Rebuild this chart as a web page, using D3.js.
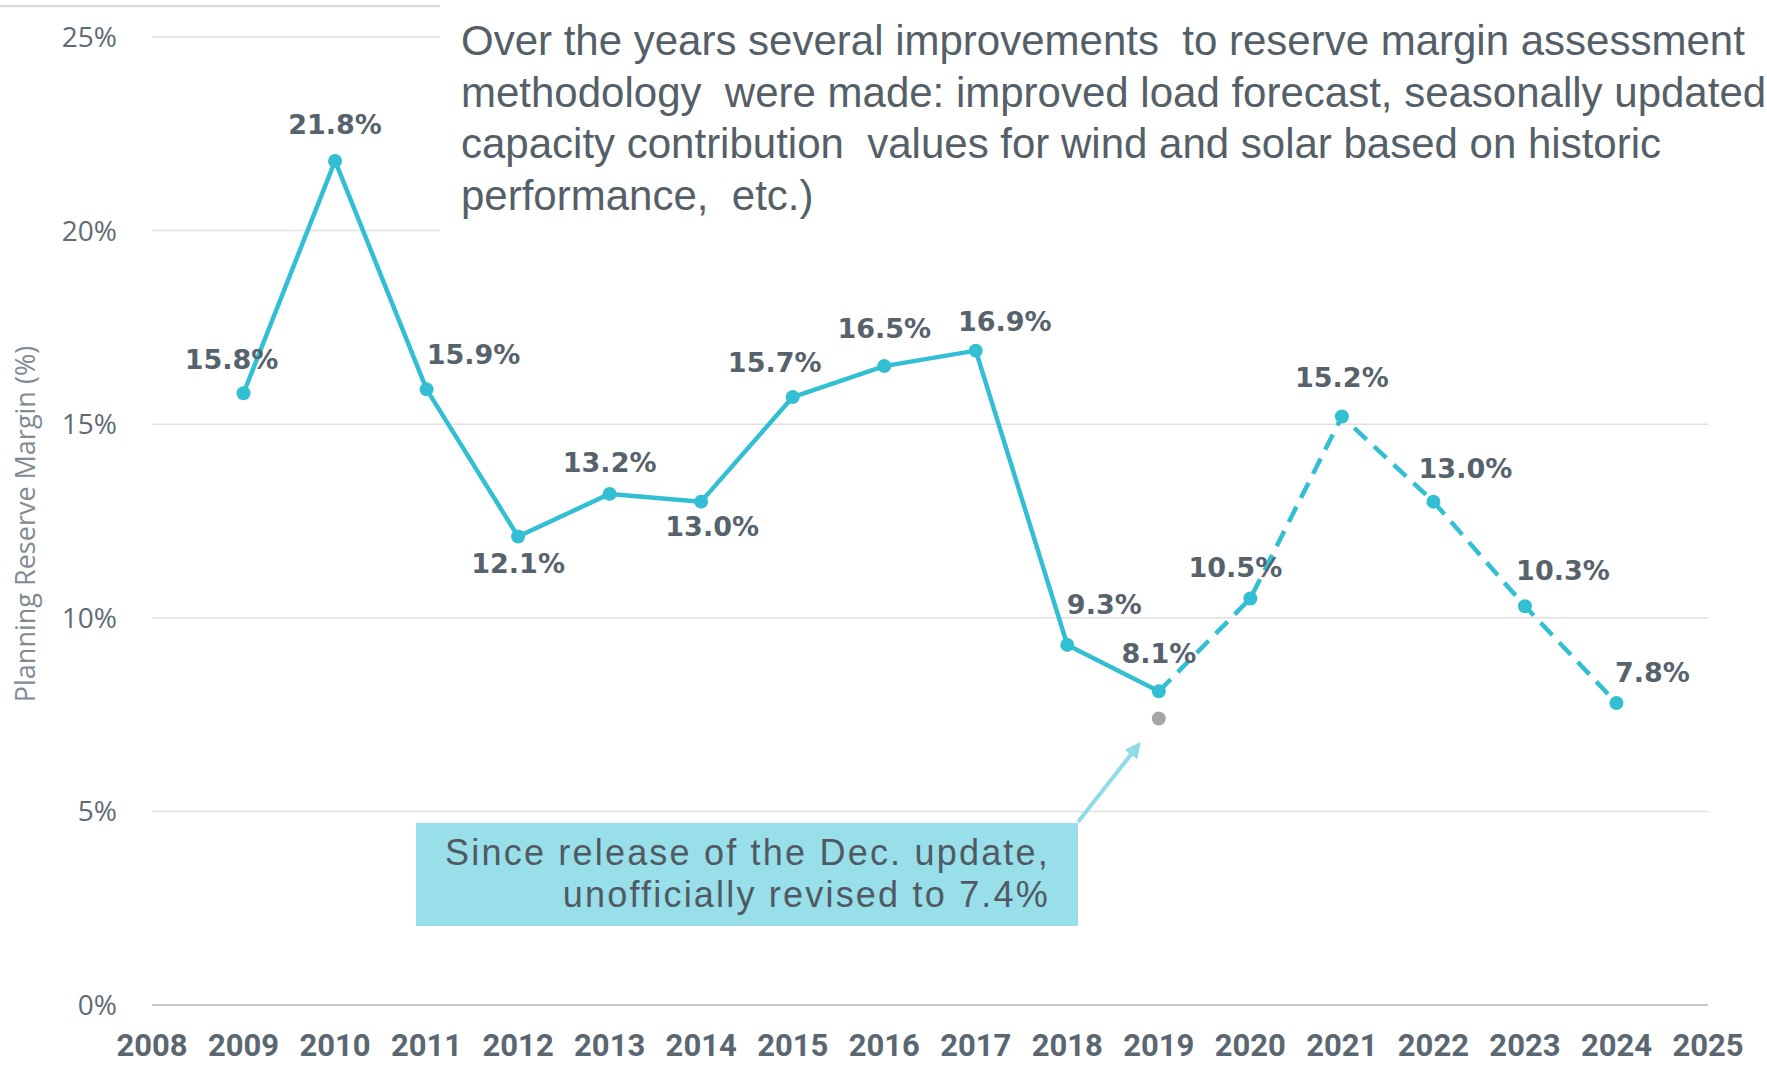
<!DOCTYPE html>
<html>
<head>
<meta charset="utf-8">
<script src="https://cdn.jsdelivr.net/npm/d3@7"></script>
<style>
  html, body { margin: 0; padding: 0; background: #fff; }
  svg { display: block; }
</style>
</head>
<body>
<div id="chart"></div>
<script>
// years on the x axis
const years = [2008, 2009, 2010, 2011, 2012, 2013, 2014, 2015, 2016, 2017, 2018, 2019, 2020, 2021, 2022, 2023, 2024, 2025];
// actual planning reserve margin (solid)
const actualYears = [2009, 2010, 2011, 2012, 2013, 2014, 2015, 2016, 2017, 2018, 2019];
const actualValues = [15.8, 21.8, 15.9, 12.1, 13.2, 13.0, 15.7, 16.5, 16.9, 9.3, 8.1];
// projected (dashed)
const projYears = [2019, 2020, 2021, 2022, 2023, 2024];
const projValues = [8.1, 10.5, 15.2, 13.0, 10.3, 7.8];
// revised value
const revisedYear = 2019;
const revisedValue = 7.4;
const yTicks = [0, 5, 10, 15, 20, 25];

const noteLines = [
  "Over the years several improvements  to reserve margin assessment",
  "methodology  were made: improved load forecast, seasonally updated",
  "capacity contribution  values for wind and solar based on historic",
  "performance,  etc.)"
];
const calloutLines = ["Since release of the Dec. update,", "unofficially revised to 7.4%"];

// label nudges [dx, dy] per point (layout only)
const nudges = {
  2009: [-12, -24], 2010: [0, -27], 2011: [47, -25], 2012: [0, 37], 2013: [0, -22],
  2014: [11, 34], 2015: [-18, -25], 2016: [0, -28], 2017: [29, -20], 2018: [37, -31],
  2019: [0, -28], 2020: [-15, -21], 2021: [0, -29], 2022: [32, -24], 2023: [38, -26], 2024: [36, -21]
};

const W = 1767, H = 1067;
const lineColor = "#33bfd3";
const textColor = "#56626c";

const svg = d3.select("#chart").append("svg")
  .attr("width", W).attr("height", H);

const x = d3.scalePoint().domain(years).range([152, 1708]);
const y = d3.scaleLinear().domain([0, 25]).range([1005, 37]);

// top border line
svg.append("line")
  .attr("x1", 0).attr("x2", 440).attr("y1", 6).attr("y2", 6)
  .attr("stroke", "#d9d9d9").attr("stroke-width", 2.5);

// gridlines
svg.append("g")
  .selectAll("line")
  .data(yTicks)
  .join("line")
  .attr("x1", 152)
  .attr("x2", 1708)
  .attr("y1", d => y(d)).attr("y2", d => y(d))
  .attr("stroke", d => d === 0 ? "#c8c8c8" : "#e0e0e0")
  .attr("stroke-width", d => d === 0 ? 2 : 1.5);

// y axis labels
svg.append("g")
  .selectAll("text")
  .data(yTicks)
  .join("text")
  .attr("x", 117)
  .attr("y", d => y(d))
  .attr("dy", "0.36em")
  .attr("text-anchor", "end")
  .attr("font-family", "'Open Sans', 'Noto Sans', sans-serif")
  .attr("font-size", 28)
  .attr("fill", "#5f6b75")
  .text(d => d + "%");

// x axis labels
svg.append("g")
  .selectAll("text")
  .data(years)
  .join("text")
  .attr("x", d => x(d))
  .attr("y", 1056)
  .attr("text-anchor", "middle")
  .attr("font-family", "Roboto, sans-serif")
  .attr("font-weight", "bold")
  .attr("font-size", 31)
  .attr("fill", "#5a6670")
  .text(d => d);

// y axis title
svg.append("text")
  .attr("transform", "translate(35,524) rotate(-90)")
  .attr("text-anchor", "middle")
  .attr("font-family", "'Open Sans', 'Noto Sans', sans-serif")
  .attr("font-size", 27)
  .attr("fill", "#808b94")
  .text("Planning Reserve Margin (%)");

// note box (white, covers upper gridlines)
svg.append("rect")
  .attr("x", 440).attr("y", 0).attr("width", W - 440).attr("height", 240)
  .attr("fill", "#fff");

svg.append("g")
  .selectAll("text")
  .data(noteLines)
  .join("text")
  .attr("x", 461)
  .attr("y", (d, i) => 55 + i * 51.5)
  .attr("font-family", "'Liberation Sans', Arial, sans-serif")
  .attr("font-size", 42)
  .attr("fill", "#555f68")
  .attr("xml:space", "preserve")
  .style("white-space", "pre")
  .text(d => d);

// lines
const line = d3.line().x(d => x(d[0])).y(d => y(d[1]));
const actual = actualYears.map((yr, i) => [yr, actualValues[i]]);
const proj = projYears.map((yr, i) => [yr, projValues[i]]);

svg.append("path")
  .datum(proj)
  .attr("d", line)
  .attr("fill", "none")
  .attr("stroke", lineColor)
  .attr("stroke-width", 4.5)
  .attr("stroke-dasharray", "17,10");

svg.append("path")
  .datum(actual)
  .attr("d", line)
  .attr("fill", "none")
  .attr("stroke", lineColor)
  .attr("stroke-width", 4.5)
  .attr("stroke-linejoin", "round");

const allPts = actual.concat(proj.slice(1));

svg.append("g")
  .selectAll("circle")
  .data(allPts)
  .join("circle")
  .attr("cx", d => x(d[0]))
  .attr("cy", d => y(d[1]))
  .attr("r", 7)
  .attr("fill", lineColor);

// revised grey point
svg.append("circle")
  .attr("cx", x(revisedYear))
  .attr("cy", y(revisedValue))
  .attr("r", 7)
  .attr("fill", "#a6a6a6");

// data labels
svg.append("g")
  .selectAll("text")
  .data(allPts)
  .join("text")
  .attr("x", d => x(d[0]) + nudges[d[0]][0])
  .attr("y", d => y(d[1]) + nudges[d[0]][1])
  .attr("text-anchor", "middle")
  .attr("font-family", "'DejaVu Sans', Verdana, sans-serif")
  .attr("font-weight", "bold")
  .attr("font-size", 27)
  .attr("fill", textColor)
  .text(d => d[1].toFixed(1) + "%");

// callout
svg.append("rect")
  .attr("x", 416).attr("y", 823).attr("width", 662).attr("height", 103)
  .attr("fill", "#99dfe9");

svg.append("g")
  .selectAll("text")
  .data(calloutLines)
  .join("text")
  .attr("x", 1050)
  .attr("y", (d, i) => 865 + i * 42)
  .attr("text-anchor", "end")
  .attr("font-family", "'Liberation Sans', Arial, sans-serif")
  .attr("font-size", 36)
  .attr("letter-spacing", 2.2)
  .attr("fill", "#4f5a63")
  .text(d => d);

// arrow from callout to revised point
svg.append("defs").append("marker")
  .attr("id", "arr")
  .attr("viewBox", "0 0 10 10")
  .attr("refX", 8).attr("refY", 5)
  .attr("markerWidth", 4).attr("markerHeight", 4)
  .attr("orient", "auto")
  .append("path")
  .attr("d", "M0,0 L10,5 L0,10 Z")
  .attr("fill", "#8fdbe6");

svg.append("line")
  .attr("x1", 1078).attr("y1", 822)
  .attr("x2", x(revisedYear) - 20).attr("y2", y(revisedValue) + 26)
  .attr("stroke", "#8fdbe6")
  .attr("stroke-width", 4)
  .attr("marker-end", "url(#arr)");
</script>
</body>
</html>
